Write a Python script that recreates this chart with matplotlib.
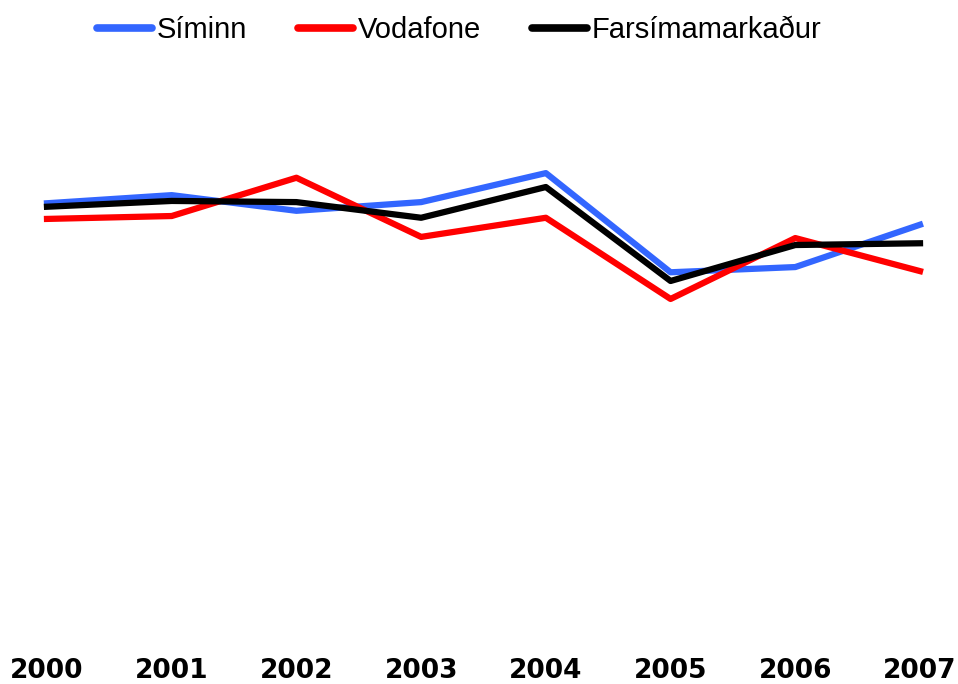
import matplotlib.pyplot as plt

years = ['2000', '2001', '2002', '2003', '2004', '2005', '2006', '2007']
siminn = [75.3, 76.7, 74.0, 75.5, 80.5, 63.4, 64.3, 71.6]
vodafone = [72.6, 73.1, 79.7, 69.5, 72.8, 58.8, 69.3, 63.6]
markadur = [74.7, 75.7, 75.5, 72.8, 78.1, 61.9, 68.1, 68.4]

fig = plt.figure(figsize=(9.58, 6.84), dpi=100)
ax = fig.add_axes([47 / 958, 44 / 684, 873 / 958, 580 / 684])

x = range(len(years))
lw = 4.5
ax.plot(x, siminn, color='#3366FF', lw=lw, label='Síminn', clip_on=False)
ax.plot(x, vodafone, color='#FF0000', lw=lw, label='Vodafone', clip_on=False)
ax.plot(x, markadur, color='#000000', lw=lw, label='Farsímamarkaður', clip_on=False)

ax.set_xlim(0, len(years) - 1)
ax.set_ylim(0, 100)
ax.set_xticks(list(x))
ax.set_xticklabels(years, fontsize=19, fontweight='bold', family='DejaVu Sans')
ax.tick_params(axis='x', length=0, pad=13)
ax.set_yticks([])
for s in ax.spines.values():
    s.set_visible(False)

leg = fig.legend(loc='center', bbox_to_anchor=(459 / 958, 1 - 30 / 684), ncol=3,
                 frameon=False, prop={'family': 'Liberation Sans', 'size': 21},
                 handlelength=1.9, handletextpad=0.15, columnspacing=1.75)
for h in leg.legend_handles:
    h.set_linewidth(5.5)
    h.set_solid_capstyle('round')

fig.savefig('out.png', dpi=100)
